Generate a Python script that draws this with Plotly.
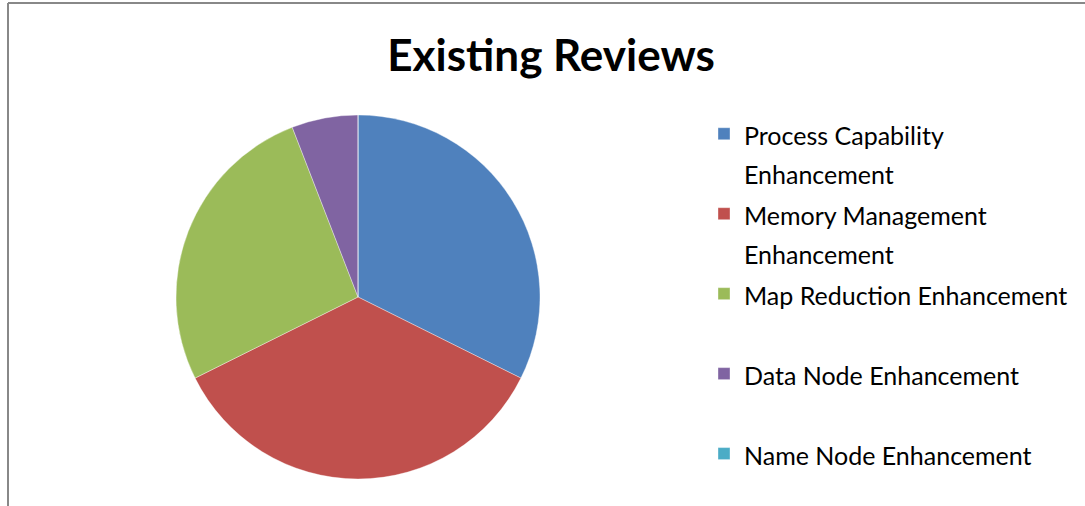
import plotly.graph_objects as go

categories = ["Process Capability Enhancement", "Memory Management Enhancement",
              "Map Reduction Enhancement", "Data Node Enhancement", "Name Node Enhancement"]
values = [11, 12, 9, 2, 0]
colors = ["#4F81BD", "#C0504D", "#9BBB59", "#8064A2", "#4BACC6"]
legend_lines = [["Process Capability", "Enhancement"], ["Memory Management", "Enhancement"],
                ["Map Reduction Enhancement", " "], ["Data Node Enhancement", " "],
                ["Name Node Enhancement"]]
legend_labels = ["<br>".join("<span style='font-size:25px'>%s</span>" % s for s in ln)
                 for ln in legend_lines]

W, H = 1085, 506
cx, cy, r = 358, 297, 182

fig = go.Figure(go.Pie(
    labels=legend_labels,
    values=values,
    customdata=categories,
    marker=dict(colors=colors, line=dict(color="rgba(255,255,255,0.6)", width=0.6)),
    sort=False,
    direction="clockwise",
    rotation=0,
    textinfo="none",
    hovertemplate="%{customdata}: %{value} (%{percent})<extra></extra>",
    domain=dict(x=[(cx - r) / W, (cx + r) / W], y=[(H - cy - r) / H, (H - cy + r) / H]),
))

fig.update_layout(
    width=W, height=H,
    margin=dict(l=0, r=0, t=0, b=0, autoexpand=False),
    paper_bgcolor="white",
    font=dict(family="Lato, Open Sans, sans-serif", color="black"),
    title=dict(text="<b>Existing Reviews</b>", x=551 / W, xanchor="center",
               y=1 - 56 / H, yanchor="middle", font=dict(size=44, color="black")),
    showlegend=True,
    legend=dict(x=704 / W, xanchor="left", y=1 - 108 / H, yanchor="top",
                font=dict(size=29.6, color="black"), valign="top",
                tracegroupgap=0, bgcolor="rgba(0,0,0,0)"),
    shapes=[
        dict(type="line", xref="paper", yref="paper", x0=8 / W, x1=1, y0=1 - 3 / H, y1=1 - 3 / H,
             line=dict(color="#888888", width=2)),
        dict(type="line", xref="paper", yref="paper", x0=8 / W, x1=8 / W, y0=0, y1=1 - 3 / H,
             line=dict(color="#888888", width=2)),
    ],
)

fig.write_html("out.html", post_script="document.body.style.margin='0';",
               config={"displayModeBar": False})
